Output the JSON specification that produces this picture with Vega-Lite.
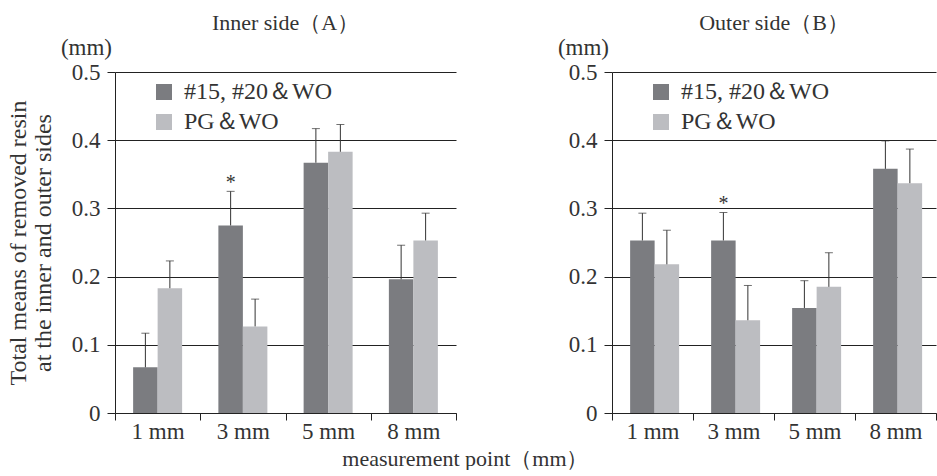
{
  "$schema": "https://vega.github.io/schema/vega-lite/v6.json",
  "background": "white",
  "padding": {"left": 6, "top": 12, "right": 0, "bottom": 0},
  "config": {
    "font": "Liberation Serif",
    "view": {"stroke": null},
    "title": {"font": "Liberation Serif", "fontWeight": "normal", "fontSize": 22, "color": "#333"},
    "axis": {
      "labelFont": "Liberation Serif", "titleFont": "Liberation Serif",
      "domainColor": "#222", "tickColor": "#222", "gridColor": "#222",
      "labelColor": "#333", "titleColor": "#333",
      "labelFontSize": 23, "titleFontSize": 24, "titleFontWeight": "normal",
      "tickSize": 8, "domainWidth": 1, "tickWidth": 1, "gridWidth": 1
    },
    "legend": {"labelFont": "Liberation Serif", "labelFontSize": 24, "labelColor": "#333"},
    "text": {"font": "Liberation Serif"}
  },
  "datasets": {
    "inner": [
      {"point": "1 mm", "group": "#15, #20＆WO", "mean": 0.067, "upper": 0.117, "note": ""},
      {"point": "1 mm", "group": "PG＆WO", "mean": 0.183, "upper": 0.223, "note": ""},
      {"point": "3 mm", "group": "#15, #20＆WO", "mean": 0.275, "upper": 0.325, "note": "*"},
      {"point": "3 mm", "group": "PG＆WO", "mean": 0.127, "upper": 0.167, "note": ""},
      {"point": "5 mm", "group": "#15, #20＆WO", "mean": 0.367, "upper": 0.417, "note": ""},
      {"point": "5 mm", "group": "PG＆WO", "mean": 0.383, "upper": 0.423, "note": ""},
      {"point": "8 mm", "group": "#15, #20＆WO", "mean": 0.196, "upper": 0.246, "note": ""},
      {"point": "8 mm", "group": "PG＆WO", "mean": 0.253, "upper": 0.293, "note": ""}
    ],
    "outer": [
      {"point": "1 mm", "group": "#15, #20＆WO", "mean": 0.253, "upper": 0.293, "note": ""},
      {"point": "1 mm", "group": "PG＆WO", "mean": 0.218, "upper": 0.268, "note": ""},
      {"point": "3 mm", "group": "#15, #20＆WO", "mean": 0.253, "upper": 0.294, "note": "*"},
      {"point": "3 mm", "group": "PG＆WO", "mean": 0.136, "upper": 0.187, "note": ""},
      {"point": "5 mm", "group": "#15, #20＆WO", "mean": 0.154, "upper": 0.194, "note": ""},
      {"point": "5 mm", "group": "PG＆WO", "mean": 0.185, "upper": 0.235, "note": ""},
      {"point": "8 mm", "group": "#15, #20＆WO", "mean": 0.358, "upper": 0.399, "note": ""},
      {"point": "8 mm", "group": "PG＆WO", "mean": 0.337, "upper": 0.387, "note": ""}
    ],
    "unit": [{"label": "(mm)"}]
  },
  "title": {"text": "measurement point（mm）", "orient": "bottom", "anchor": "middle", "fontSize": 22, "offset": 6, "dx": -6},
  "spacing": 156,
  "bounds": "flush",
  "resolve": {"scale": {"color": "independent"}},
  "hconcat": [
    {
      "width": 341, "height": 341,
      "title": {"text": "Inner side（A）", "offset": 2},
      "data": {"name": "inner"},
      "layer": [
        {
          "mark": {"type": "bar"},
          "encoding": {
            "x": {"field": "point", "type": "nominal", "sort": ["1 mm", "3 mm", "5 mm", "8 mm"], "title": null,
                  "scale": {"paddingInner": 0, "paddingOuter": 0},
                  "axis": {"tickBand": "extent", "labelAngle": 0, "labelPadding": 0, "tickSize": 7, "grid": false}},
            "xOffset": {"field": "group", "type": "nominal", "sort": ["#15, #20＆WO", "PG＆WO"], "scale": {"paddingInner": 0, "paddingOuter": 0.74}},
            "y": {"field": "mean", "type": "quantitative", "scale": {"domain": [0, 0.5]},
                  "axis": {"values": [0, 0.1, 0.2, 0.3, 0.4, 0.5], "grid": true, "labelPadding": 7,
                           "labelExpr": "datum.value == 0 ? '0' : format(datum.value, '.1f')",
                           "title": ["Total means of removed resin", "at the inner and outer sides"],
                           "titleLineHeight": 25, "titlePadding": 16}},
            "color": {"field": "group", "type": "nominal", "sort": ["#15, #20＆WO", "PG＆WO"],
                      "scale": {"domain": ["#15, #20＆WO", "PG＆WO"], "range": ["#7b7c80", "#bcbdc1"]},
                      "legend": {"title": null, "orient": "none", "legendX": 37, "legendY": 8, "symbolType": "square",
                                 "symbolSize": 256, "symbolStrokeWidth": 0, "labelOffset": 8, "rowPadding": 6, "padding": 0}}
          }
        },
        {
          "mark": {"type": "rule", "color": "#333", "strokeWidth": 1},
          "encoding": {
            "x": {"field": "point", "type": "nominal", "sort": ["1 mm", "3 mm", "5 mm", "8 mm"]},
            "xOffset": {"field": "group", "type": "nominal", "sort": ["#15, #20＆WO", "PG＆WO"]},
            "y": {"field": "mean", "type": "quantitative"},
            "y2": {"field": "upper"}
          }
        },
        {
          "mark": {"type": "tick", "color": "#333", "size": 8, "thickness": 1},
          "encoding": {
            "x": {"field": "point", "type": "nominal", "sort": ["1 mm", "3 mm", "5 mm", "8 mm"]},
            "xOffset": {"field": "group", "type": "nominal", "sort": ["#15, #20＆WO", "PG＆WO"]},
            "y": {"field": "upper", "type": "quantitative"}
          }
        },
        {
          "mark": {"type": "text", "dy": -8, "fontSize": 20, "color": "#333"},
          "encoding": {
            "x": {"field": "point", "type": "nominal", "sort": ["1 mm", "3 mm", "5 mm", "8 mm"]},
            "xOffset": {"field": "group", "type": "nominal", "sort": ["#15, #20＆WO", "PG＆WO"]},
            "y": {"field": "upper", "type": "quantitative"},
            "text": {"field": "note"}
          }
        },
        {
          "data": {"name": "unit"},
          "mark": {"type": "text", "align": "right", "baseline": "middle", "dx": -3, "dy": -24, "fontSize": 23, "color": "#333"},
          "encoding": {
            "x": {"datum": "1 mm", "bandPosition": 0},
            "y": {"datum": 0.5},
            "text": {"field": "label"}
          }
        }
      ]
    },
    {
      "width": 324, "height": 341,
      "title": {"text": "Outer side（B）", "offset": 2},
      "data": {"name": "outer"},
      "layer": [
        {
          "mark": {"type": "bar"},
          "encoding": {
            "x": {"field": "point", "type": "nominal", "sort": ["1 mm", "3 mm", "5 mm", "8 mm"], "title": null,
                  "scale": {"paddingInner": 0, "paddingOuter": 0},
                  "axis": {"tickBand": "extent", "labelAngle": 0, "labelPadding": 0, "tickSize": 7, "grid": false}},
            "xOffset": {"field": "group", "type": "nominal", "sort": ["#15, #20＆WO", "PG＆WO"], "scale": {"paddingInner": 0, "paddingOuter": 0.74}},
            "y": {"field": "mean", "type": "quantitative", "scale": {"domain": [0, 0.5]},
                  "axis": {"values": [0, 0.1, 0.2, 0.3, 0.4, 0.5], "grid": true, "labelPadding": 7,
                           "labelExpr": "datum.value == 0 ? '0' : format(datum.value, '.1f')", "title": null}},
            "color": {"field": "group", "type": "nominal", "sort": ["#15, #20＆WO", "PG＆WO"],
                      "scale": {"domain": ["#15, #20＆WO", "PG＆WO"], "range": ["#7b7c80", "#bcbdc1"]},
                      "legend": {"title": null, "orient": "none", "legendX": 37, "legendY": 8, "symbolType": "square",
                                 "symbolSize": 256, "symbolStrokeWidth": 0, "labelOffset": 8, "rowPadding": 6, "padding": 0}}
          }
        },
        {
          "mark": {"type": "rule", "color": "#333", "strokeWidth": 1},
          "encoding": {
            "x": {"field": "point", "type": "nominal", "sort": ["1 mm", "3 mm", "5 mm", "8 mm"]},
            "xOffset": {"field": "group", "type": "nominal", "sort": ["#15, #20＆WO", "PG＆WO"]},
            "y": {"field": "mean", "type": "quantitative"},
            "y2": {"field": "upper"}
          }
        },
        {
          "mark": {"type": "tick", "color": "#333", "size": 8, "thickness": 1},
          "encoding": {
            "x": {"field": "point", "type": "nominal", "sort": ["1 mm", "3 mm", "5 mm", "8 mm"]},
            "xOffset": {"field": "group", "type": "nominal", "sort": ["#15, #20＆WO", "PG＆WO"]},
            "y": {"field": "upper", "type": "quantitative"}
          }
        },
        {
          "mark": {"type": "text", "dy": -8, "fontSize": 20, "color": "#333"},
          "encoding": {
            "x": {"field": "point", "type": "nominal", "sort": ["1 mm", "3 mm", "5 mm", "8 mm"]},
            "xOffset": {"field": "group", "type": "nominal", "sort": ["#15, #20＆WO", "PG＆WO"]},
            "y": {"field": "upper", "type": "quantitative"},
            "text": {"field": "note"}
          }
        },
        {
          "data": {"name": "unit"},
          "mark": {"type": "text", "align": "right", "baseline": "middle", "dx": -3, "dy": -24, "fontSize": 23, "color": "#333"},
          "encoding": {
            "x": {"datum": "1 mm", "bandPosition": 0},
            "y": {"datum": 0.5},
            "text": {"field": "label"}
          }
        }
      ]
    }
  ]
}
